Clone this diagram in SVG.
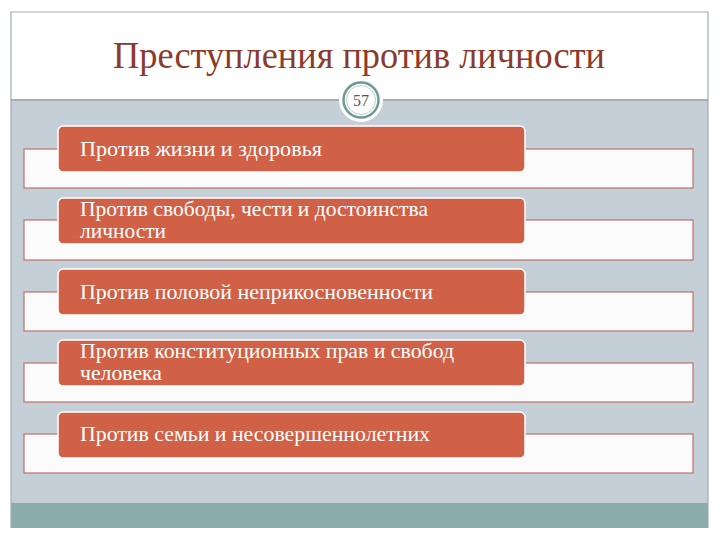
<svg xmlns="http://www.w3.org/2000/svg" width="720" height="540" viewBox="0 0 720 540">
<style>
.row{fill:#fbfbfb;stroke:#c0706a;stroke-width:1.2}
.box{fill:#d06146;stroke:#ffffff;stroke-width:1.5}
.t{font-family:"Liberation Serif","Times New Roman",serif;font-size:21px;fill:#ffffff}
</style>
<rect x="0" y="0" width="720" height="540" fill="#ffffff"/>
<rect x="11" y="101" width="697" height="402" fill="#c5cfd7"/>
<rect x="11" y="503" width="697" height="25" fill="#8aacab"/>
<path d="M11,528 V12 H708 V528" fill="none" stroke="#a3acad" stroke-width="1.2"/>
<line x1="11" y1="100" x2="708" y2="100" stroke="#8d9596" stroke-width="1.5"/>
<text x="113" y="68" textLength="492" lengthAdjust="spacingAndGlyphs" font-family="Liberation Serif,'Times New Roman',serif" font-size="37" fill="#8a3b2c">Преступления против личности</text>
<g id="badge">
<circle cx="361" cy="100" r="22" fill="#ffffff"/>
<circle cx="361" cy="100" r="17.5" fill="#ffffff" stroke="#6f9a94" stroke-width="2.5"/>
<circle cx="361" cy="100" r="14.5" fill="none" stroke="#b9cfcb" stroke-width="1"/>
<text x="361" y="106" text-anchor="middle" font-family="Liberation Serif,serif" font-size="16" fill="#555">57</text>
</g>
<g id="connectors"></g>
<g id="n1">
<rect class="row" x="24" y="149" width="669" height="39"/>
<rect class="box" x="58" y="126" width="467" height="46" rx="5"/>
<text class="t" x="80" y="156" textLength="242" lengthAdjust="spacingAndGlyphs">Против жизни и здоровья</text>
</g>
<g id="n2">
<rect class="row" x="24" y="220" width="669" height="40"/>
<rect class="box" x="58" y="198" width="467" height="46" rx="5"/>
<text class="t" x="80" y="216" textLength="348" lengthAdjust="spacingAndGlyphs">Против свободы, чести и достоинства</text>
<text class="t" x="80" y="238" textLength="86" lengthAdjust="spacingAndGlyphs">личности</text>
</g>
<g id="n3">
<rect class="row" x="24" y="292" width="669" height="39"/>
<rect class="box" x="58" y="269" width="467" height="46" rx="5"/>
<text class="t" x="80" y="299" textLength="353" lengthAdjust="spacingAndGlyphs">Против половой неприкосновенности</text>
</g>
<g id="n4">
<rect class="row" x="24" y="363" width="669" height="39"/>
<rect class="box" x="58" y="340" width="467" height="46" rx="5"/>
<text class="t" x="80" y="358" textLength="374" lengthAdjust="spacingAndGlyphs">Против конституционных прав и свобод</text>
<text class="t" x="80" y="380" textLength="82" lengthAdjust="spacingAndGlyphs">человека</text>
</g>
<g id="n5">
<rect class="row" x="24" y="434" width="669" height="39"/>
<rect class="box" x="58" y="412" width="467" height="46" rx="5"/>
<text class="t" x="80" y="441" textLength="350" lengthAdjust="spacingAndGlyphs">Против семьи и несовершеннолетних</text>
</g>
</svg>
